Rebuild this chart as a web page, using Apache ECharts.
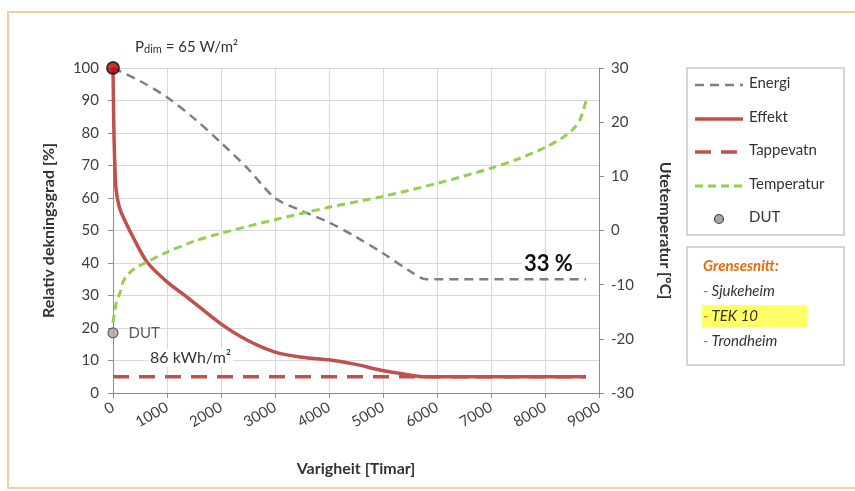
<!DOCTYPE html>
<html>
<head>
<meta charset="utf-8">
<script src="https://cdn.jsdelivr.net/npm/echarts@6/dist/echarts.min.js"></script>
<style>
html,body{margin:0;padding:0;background:#fff;}
#c{width:855px;height:491px;}
</style>
</head>
<body>
<div id="c"></div>
<script>
// Data (hours, % / °C)
var energi = [[0,100],[500,96],[1000,91],[1500,84.5],[2000,77],[2500,69],[3000,60],[3500,56],[4000,52.5],[4500,48],[5000,43],[5500,37.5],[5800,35],[8760,35]];
var effekt = [[0,100],[8,90],[15,82],[30,72],[50,64],[80,60],[130,56.5],[250,52],[370,48],[630,40.3],[1000,34.2],[1370,29.5],[1980,21.5],[2480,16.3],[3000,12.6],[3500,11],[4000,10.2],[4500,8.8],[4940,7.1],[5400,5.8],[5740,5],[8760,5]];
var tappevatn = [[0,5],[8760,5]];
var temperatur = [[0,-17],[30,-15],[70,-13],[130,-11.5],[185,-9.5],[260,-8.3],[400,-7],[630,-5.8],[1000,-4],[1500,-2],[2000,-0.5],[3000,2],[3600,3.4],[4000,4.3],[5000,6.3],[6000,8.7],[7000,11.5],[7500,13.2],[8000,15.3],[8300,17],[8500,18.5],[8650,20.5],[8760,24]];
var dut = [[0,18.5]];
var pdim = [[0,100]];
var legendNames = ['Energi','Effekt','Tappevatn','Temperatur','DUT'];
var grensesnitt = ['Sjukeheim','TEK 10','Trondheim'];

var FONT = 'Lato';
var styles = {
  Energi:{color:'#7f7f7f',width:2.5,type:[9,6]},
  Effekt:{color:'#c0504d',width:3.5,type:'solid'},
  Tappevatn:{color:'#c0504d',width:3.5,type:[16,10]},
  Temperatur:{color:'#92d050',width:3,type:[8,5]}
};

var graphics = [
  {type:'rect',shape:{x:8,y:12,width:900,height:476},style:{fill:'none',stroke:'#f0cf9e',lineWidth:2},silent:true},
  {type:'text',left:135,top:40,style:{
    text:'{p|P}{s|dim}{n| = 65 W/m²}',
    rich:{p:{fontSize:15,fontFamily:FONT,fill:'#333'},s:{fontSize:11,fontFamily:FONT,fill:'#333',verticalAlign:'bottom'},n:{fontSize:15,fontFamily:FONT,fill:'#333'}}
  }},
  {type:'text',left:148,top:349,z:5,style:{text:'86 kWh/m²',fontSize:16,fontFamily:FONT,fill:'#333',backgroundColor:'#fff',padding:[1,2]}},
  {type:'text',left:522,top:253,z:5,style:{text:'33 %',fontSize:22,fontWeight:'bold',fontFamily:FONT,fill:'#111',backgroundColor:'#fff',padding:[0,2]}},
  {type:'rect',shape:{x:687,y:68,width:157,height:167},style:{fill:'#fff',stroke:'#c8c8c8',lineWidth:1.5}},
  {type:'rect',shape:{x:687,y:247,width:157,height:118},style:{fill:'#fff',stroke:'#c8c8c8',lineWidth:1.5}},
  {type:'rect',shape:{x:702,y:305,width:105,height:22},style:{fill:'#ffff66',stroke:'none'}},
  {type:'text',left:703,top:259,style:{text:'Grensesnitt:',fontSize:15,fontWeight:'bold',fontStyle:'italic',fontFamily:FONT,fill:'#e46c0a'}}
];
var ly = [85,119,152,186,219];
legendNames.forEach(function(n,i){
  if (styles[n]) {
    var s = styles[n];
    graphics.push({type:'line',shape:{x1:695,y1:ly[i],x2:743,y2:ly[i]},
      style:{stroke:s.color,lineWidth:s.width,lineDash:s.type==='solid'?null:s.type}});
  } else {
    graphics.push({type:'circle',shape:{cx:719,cy:ly[i],r:4.5},style:{fill:'#a5a5a5',stroke:'#404040',lineWidth:1.2}});
  }
  graphics.push({type:'text',left:749,top:ly[i]-9,style:{text:n,fontSize:15,fontFamily:FONT,fill:'#333'}});
});
grensesnitt.forEach(function(g,i){
  graphics.push({type:'text',left:703,top:284+25*i,style:{text:'{d|-} {t|'+g+'}',
    rich:{d:{fill:'#e46c0a',fontSize:15,fontStyle:'italic',fontFamily:FONT},t:{fill:'#333',fontSize:15,fontStyle:'italic',fontFamily:FONT}}}});
});

var chart = echarts.init(document.getElementById('c'));
chart.setOption({
  backgroundColor:'#fff',
  textStyle:{fontFamily:FONT},
  animation:false,
  grid:{left:113,right:256,top:68,bottom:98},
  xAxis:{
    type:'value', min:0, max:9000, interval:1000,
    name:'Varigheit [Timar]', nameLocation:'middle', nameGap:68,
    nameTextStyle:{fontFamily:FONT,fontSize:16,fontWeight:'bold',color:'#333'},
    axisLine:{lineStyle:{color:'#8c8c8c'}},
    axisTick:{show:true,length:5,lineStyle:{color:'#8c8c8c'}},
    axisLabel:{rotate:30,fontSize:15,color:'#404040',fontFamily:FONT,margin:13,formatter:function(v){return String(v);}},
    splitLine:{show:true,lineStyle:{color:'#d9d9d9'}}
  },
  yAxis:[{
    type:'value', min:0, max:100, interval:10,
    name:'Relativ dekningsgrad [%]', nameLocation:'middle', nameGap:56,
    nameTextStyle:{fontFamily:FONT,fontSize:16,fontWeight:'bold',color:'#333'},
    axisLine:{show:true,lineStyle:{color:'#8c8c8c'}},
    axisTick:{show:true,length:5,lineStyle:{color:'#8c8c8c'}},
    axisLabel:{fontSize:15,color:'#404040',fontFamily:FONT,margin:14},
    splitLine:{show:true,lineStyle:{color:'#d9d9d9'}}
  },{
    type:'value', min:-30, max:30, interval:10, position:'right',
    name:'Utetemperatur [°C]', nameLocation:'middle', nameGap:58, nameRotate:-90,
    nameTextStyle:{fontFamily:FONT,fontSize:16,fontWeight:'bold',color:'#333'},
    axisLine:{show:true,lineStyle:{color:'#8c8c8c'}},
    axisTick:{show:true,length:5,lineStyle:{color:'#8c8c8c'}},
    axisLabel:{fontSize:15,color:'#404040',fontFamily:FONT,margin:12},
    splitLine:{show:false}
  }],
  series:[
    {name:'Energi',type:'line',data:energi,symbol:'none',smooth:0.3,lineStyle:styles.Energi},
    {name:'Effekt',type:'line',data:effekt,symbol:'none',smooth:0.3,lineStyle:styles.Effekt},
    {name:'Tappevatn',type:'line',data:tappevatn,symbol:'none',lineStyle:styles.Tappevatn},
    {name:'Temperatur',type:'line',yAxisIndex:1,data:temperatur,symbol:'none',smooth:0.3,lineStyle:styles.Temperatur},
    {name:'DUT',type:'scatter',data:dut,symbol:'circle',symbolSize:10,
      itemStyle:{color:'#a5a5a5',borderColor:'#404040',borderWidth:1.2},
      label:{show:true,position:'right',distance:10,formatter:'DUT',fontSize:15,color:'#333',fontFamily:FONT}},
    {name:'Pdim',type:'scatter',data:pdim,symbol:'circle',symbolSize:12,z:10,
      itemStyle:{color:'#c00000',borderColor:'#1a1a1a',borderWidth:2}}
  ],
  graphic:graphics
});
</script>
</body>
</html>
